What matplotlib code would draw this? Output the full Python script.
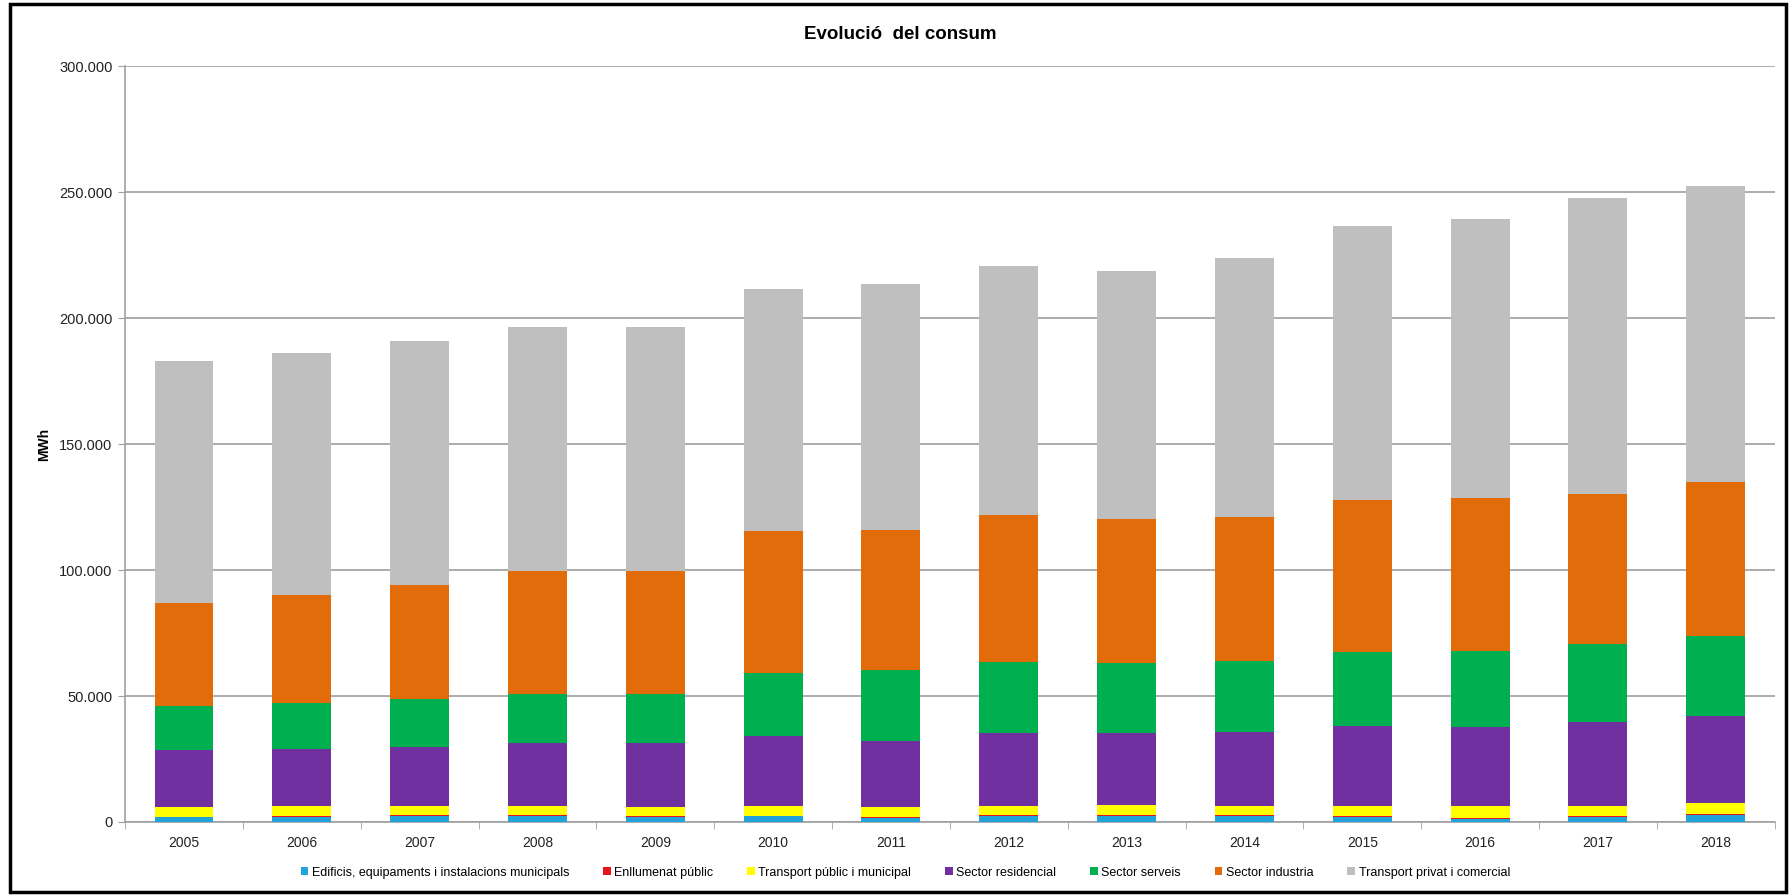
import numpy as np
import matplotlib
matplotlib.use("Agg")
import matplotlib.pyplot as plt
from matplotlib.patches import Rectangle
from matplotlib.ticker import FuncFormatter, FixedLocator

years = ["2005", "2006", "2007", "2008", "2009", "2010", "2011",
         "2012", "2013", "2014", "2015", "2016", "2017", "2018"]

series_names = [
    "Edificis, equipaments i instalacions municipals",
    "Enllumenat públic",
    "Transport públic i municipal",
    "Sector residencial",
    "Sector serveis",
    "Sector industria",
    "Transport privat i comercial",
]

# MWh per sector
edificis = [1800, 2000, 2400, 2500, 2000, 2200, 1700, 2400, 2400, 2400, 1900, 1300, 1900, 2800]
enllumenat = [300, 300, 300, 300, 300, 300, 300, 300, 300, 300, 300, 300, 300, 300]
transport_public = [3800, 4000, 3600, 3500, 3600, 3700, 3900, 3500, 4100, 3600, 4100, 4700, 4200, 4400]
residencial = [22600, 22600, 23400, 25000, 25400, 27800, 26300, 29200, 28600, 29300, 31700, 31300, 33200, 34500]
serveis = [17400, 18200, 19000, 19400, 19400, 25000, 28100, 28000, 27600, 28500, 29300, 30100, 30900, 32000]
industria = [41200, 42900, 45500, 48900, 48900, 56400, 55600, 58500, 57200, 57000, 60600, 60800, 59900, 61000]
transport_privat = [96100, 96000, 96800, 97000, 97000, 96000, 97500, 98700, 98500, 102900, 108700, 111000, 117300, 117600]

colors = ["#22A2DA", "#E8141B", "#FFFF00", "#7030A0", "#00B050", "#E36C0A", "#BFBFBF"]

data = [edificis, enllumenat, transport_public, residencial, serveis, industria, transport_privat]

plt.rcParams['font.family'] = ['Liberation Sans', 'DejaVu Sans']

fig = plt.figure(figsize=(17.89, 8.96), dpi=100)
ax = fig.add_axes([0.0699, 0.0826, 0.9221, 0.8434])

x = np.arange(len(years))
bottom = np.zeros(len(years))
handles = []
for name, vals, col in zip(series_names, data, colors):
    vals = np.array(vals, dtype=float)
    b = ax.bar(x, vals, width=0.5, bottom=bottom, color=col, label=name, zorder=3)
    handles.append(b)
    bottom += vals

ax.set_ylim(0, 300000)
ax.set_xlim(-0.5, len(years) - 0.5)
ax.set_yticks(np.arange(0, 300001, 50000))
ax.yaxis.set_major_formatter(FuncFormatter(lambda v, p: f"{int(v):,}".replace(",", ".")))
ax.set_xticks(x)
ax.set_xticklabels(years, fontsize=10, color='#222222')
ax.xaxis.set_minor_locator(FixedLocator(np.arange(-0.5, len(years), 1.0)))
ax.tick_params(axis='x', which='major', length=0, pad=10)
ax.tick_params(axis='x', which='minor', length=5, color='#A0A0A0')
ax.tick_params(axis='y', length=5, color='#A0A0A0', labelsize=10.5, pad=4,
               labelcolor='#222222')

ax.grid(axis='y', color='#A6A6A6', linewidth=1.3, zorder=0)
for s in ['top', 'right']:
    ax.spines[s].set_visible(False)
for s in ['left', 'bottom']:
    ax.spines[s].set_color('#A0A0A0')
    ax.spines[s].set_linewidth(1.2)

ax.set_ylabel("MWh", fontsize=10, fontweight='bold', labelpad=6)

fig.text(0.503, 0.962, "Evolució  del consum", ha='center', va='center',
         fontsize=13.5, fontweight='bold')

fig.legend(handles=handles, loc='center', bbox_to_anchor=(0.506, 0.026), ncol=7,
           frameon=False, handlelength=0.6, handleheight=0.6,
           columnspacing=2.7, handletextpad=0.3,
           prop={'family': ['Liberation Sans', 'DejaVu Sans'], 'size': 9})

fig.add_artist(Rectangle((10 / 1789, 4 / 896), 1776 / 1789, 888 / 896,
                         transform=fig.transFigure, fill=False,
                         edgecolor='black', linewidth=2.5))

fig.savefig("out.png", dpi=100)
